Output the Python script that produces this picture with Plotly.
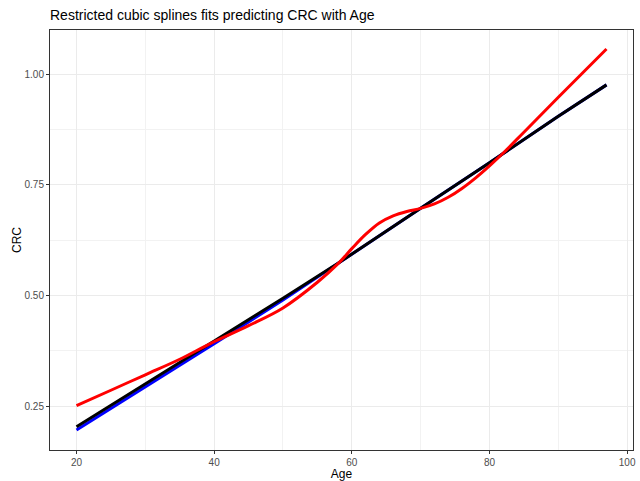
import plotly.graph_objects as go

# Data
age_lin = [20, 30, 40, 50, 58, 60, 70, 80, 82, 90, 97]
crc_blue = [0.196, 0.293, 0.391, 0.490, 0.572, 0.593, 0.697, 0.800, 0.821, 0.905, 0.976]
crc_black = [0.2035, 0.300, 0.397, 0.494, 0.573, 0.594, 0.697, 0.800, 0.821, 0.905, 0.976]

age_rcs = [20, 25, 30, 35, 39.5, 45, 50, 55, 58, 60, 62, 64, 66, 68, 70, 72, 74, 76, 78, 80, 82, 85, 90, 97]
crc_rcs = [0.251, 0.286, 0.321, 0.356, 0.392, 0.432, 0.472, 0.530, 0.572, 0.606, 0.638, 0.664, 0.680,
           0.690, 0.697, 0.707, 0.722, 0.742, 0.766, 0.793, 0.822, 0.869, 0.948, 1.057]

x_ticks = [20, 40, 60, 80, 100]
y_ticks = [0.25, 0.50, 0.75, 1.00]
y_tick_labels = ["0.25", "0.50", "0.75", "1.00"]

fig = go.Figure()
fig.add_trace(go.Scatter(x=age_lin, y=crc_blue, mode="lines",
                         line=dict(color="#0000FF", width=3), showlegend=False))
fig.add_trace(go.Scatter(x=age_lin, y=crc_black, mode="lines",
                         line=dict(color="#000000", width=3), showlegend=False))
fig.add_trace(go.Scatter(x=age_rcs, y=crc_rcs, mode="lines", line_shape="spline",
                         line=dict(color="#FF0000", width=3), showlegend=False))

axis_common = dict(
    showline=True, mirror=True, linecolor="#333333", linewidth=1,
    ticks="outside", ticklen=3, tickcolor="#333333", tickwidth=1,
    showgrid=True, gridcolor="#EBEBEB", gridwidth=1, zeroline=False,
    tickfont=dict(family="Liberation Sans, Arial, sans-serif", size=10, color="#4D4D4D"),
)

fig.update_layout(
    width=640, height=481,
    margin=dict(l=50, r=4, t=30, b=31),
    paper_bgcolor="white", plot_bgcolor="white",
    font=dict(family="Liberation Sans, Arial, sans-serif", color="black"),
    title=dict(text="Restricted cubic splines fits predicting CRC with Age",
               x=0, xref="paper", xanchor="left",
               y=1 - 15 / 481, yref="container", yanchor="middle",
               font=dict(size=14, color="black")),
    xaxis=dict(range=[16.15, 100.85], tickvals=x_ticks,
               title=dict(text="Age", font=dict(size=12), standoff=1),
               minor=dict(tickvals=[30, 50, 70, 90], showgrid=True, gridcolor="#F2F2F2", ticks=""),
               **axis_common),
    yaxis=dict(range=[0.151, 1.100], tickvals=y_ticks, ticktext=y_tick_labels,
               title=dict(text="CRC", font=dict(size=12), standoff=0),
               minor=dict(tickvals=[0.375, 0.625, 0.875], showgrid=True, gridcolor="#F2F2F2", ticks=""),
               **axis_common),
)

fig.write_html("out.html")
